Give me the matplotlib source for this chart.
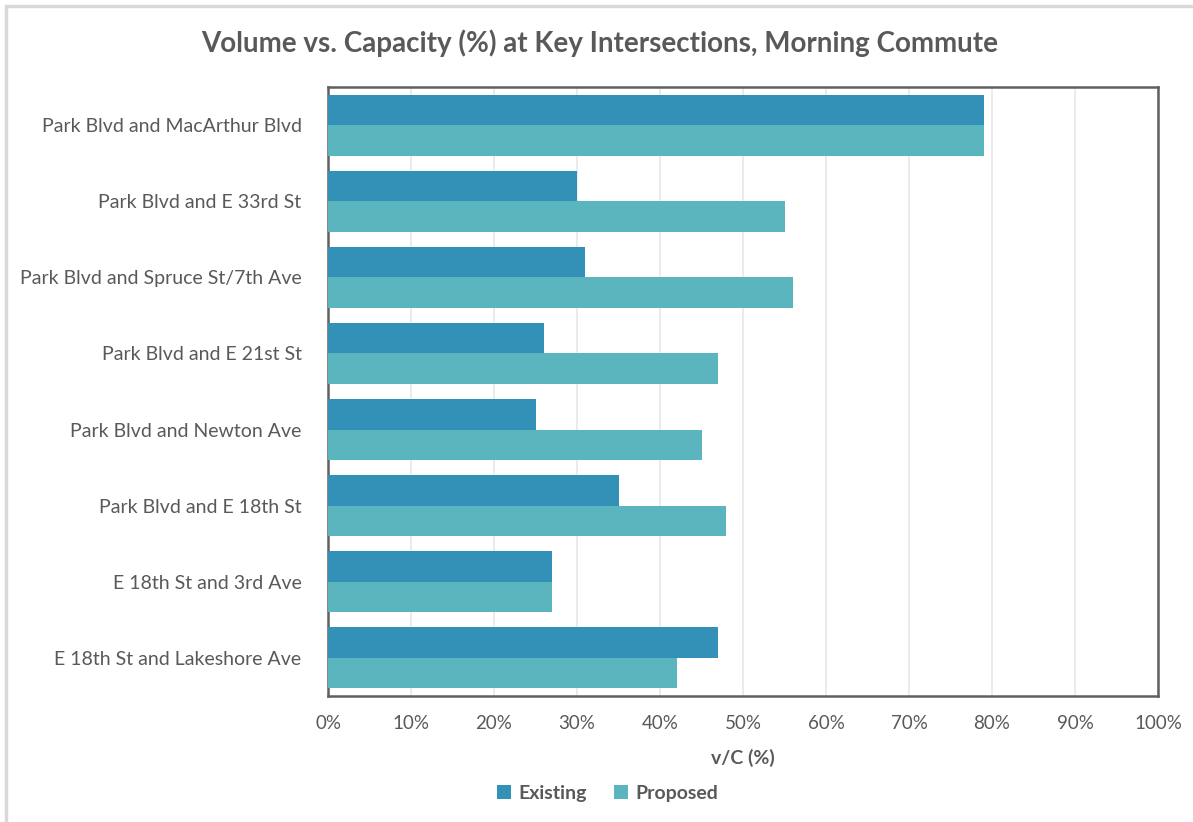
import matplotlib
matplotlib.use("Agg")
import matplotlib.pyplot as plt
import numpy as np
from matplotlib.patches import Rectangle
from matplotlib.ticker import FuncFormatter

plt.rcParams['font.family'] = ['Lato', 'DejaVu Sans']

intersections = [
    "Park Blvd and MacArthur Blvd",
    "Park Blvd and E 33rd St",
    "Park Blvd and Spruce St/7th Ave",
    "Park Blvd and E 21st St",
    "Park Blvd and Newton Ave",
    "Park Blvd and E 18th St",
    "E 18th St and 3rd Ave",
    "E 18th St and Lakeshore Ave",
]
existing = [79, 30, 31, 26, 25, 35, 27, 47]
proposed = [79, 55, 56, 47, 45, 48, 27, 42]
x_ticks = [0, 10, 20, 30, 40, 50, 60, 70, 80, 90, 100]

c_existing = "#3391b8"
c_proposed = "#5ab5be"
text_gray = "#595959"

fig = plt.figure(figsize=(11.93, 8.22), dpi=100)
fig.patches.append(Rectangle((6 / 1193, -0.05), 1.1, 1 - 6 / 822 + 0.05,
                             transform=fig.transFigure, fill=False,
                             edgecolor="#d9d9d9", linewidth=2.5, zorder=0))

ax = fig.add_axes([328 / 1193, 1 - 696 / 822, (1158 - 328) / 1193, (696 - 87) / 822])

y = np.arange(len(intersections))
h = 0.4
ax.barh(y - h / 2, existing, height=h, color=c_existing, label="Existing", zorder=3)
ax.barh(y + h / 2, proposed, height=h, color=c_proposed, label="Proposed", zorder=3)

ax.set_ylim(len(intersections) - 0.5, -0.5)
ax.set_xlim(0, 100)
ax.set_xticks(x_ticks)
ax.xaxis.set_major_formatter(FuncFormatter(lambda v, p: f"{v:.0f}%"))
ax.set_yticks(y)
ax.set_yticklabels(intersections)

ax.grid(axis="x", color="#e8e8e8", linewidth=1.2, zorder=0)
ax.set_axisbelow(True)
for s in ax.spines.values():
    s.set_color("#606060")
    s.set_linewidth(1.8)

ax.tick_params(axis="x", length=0, colors=text_gray, labelsize=13.5, pad=14)
ax.tick_params(axis="y", length=0, colors=text_gray, labelsize=14, pad=19)

ax.set_xlabel("v/C (%)", fontsize=14, fontweight="bold", color=text_gray, labelpad=12)

fig.text(0.503, 1 - 43 / 822, "Volume vs. Capacity (%) at Key Intersections, Morning Commute",
         ha="center", va="center", fontsize=20, fontweight="bold", color=text_gray)

leg = fig.legend(loc="center", bbox_to_anchor=(608 / 1193, 1 - 793 / 822), ncol=2,
                 frameon=False, fontsize=14, handlelength=0.7, handleheight=0.7,
                 handletextpad=0.4, columnspacing=1.4)
for t in leg.get_texts():
    t.set_color(text_gray)
    t.set_fontweight("bold")

fig.savefig("out.png", dpi=100)
